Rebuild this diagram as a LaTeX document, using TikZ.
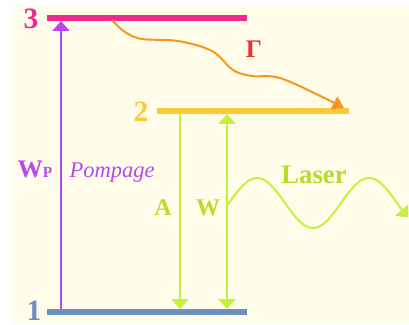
\documentclass[tikz,border=0pt]{standalone}
\usepackage{fontspec}
\setmainfont{Liberation Serif}
\usepackage{tikz}
\usetikzlibrary{arrows.meta}
\definecolor{bgCream}{HTML}{FFFDE9}
\definecolor{levThree}{HTML}{EE2A8F}
\definecolor{levTwo}{HTML}{FFC83A}
\definecolor{levOne}{HTML}{6F8FC0}
\definecolor{pumpPurple}{HTML}{B848EE}
\definecolor{laserGreen}{HTML}{C2F23E}
\definecolor{laserText}{HTML}{B6DC2E}
\definecolor{decayOrange}{HTML}{F7961E}
\definecolor{gammaRed}{HTML}{E8322C}

\begin{document}
\begin{tikzpicture}[x=0.025cm, y=-0.025cm,
  level/.style={line width=4.2pt},
  lvlabel/.style={font=\fontsize{21}{21}\selectfont\bfseries, anchor=base, inner sep=0pt},
  trans/.style={line width=1.4pt},
  tip/.style={-{Triangle[width=12pt,length=7pt]}}]
  \useasboundingbox (0,0) rectangle (409,324);
  \fill[bgCream] (13,5) rectangle (409,324);

  % Levels
  \coordinate (l3w) at (47,18);  \coordinate (l3e) at (247,18);
  \coordinate (l2w) at (157,111); \coordinate (l2e) at (349,111);
  \coordinate (l1w) at (47,312); \coordinate (l1e) at (247,312);
  \draw[level, levThree] (l3w) -- (l3e);
  \draw[level, levTwo] (l2w) -- (l2e);
  \draw[level, levOne] (l1w) -- (l1e);
  \node[lvlabel, text=levThree] (n3) at (31,28) {3};
  \node[lvlabel, text=levTwo] (n2) at (141,121) {2};
  \node[lvlabel, text=levOne] (n1) at (34,320) {1};

  % Pumping
  \coordinate (pbot) at (61,309); \coordinate (ptop) at (61,21);
  \draw[trans, pumpPurple, tip] (pbot) -- (ptop);
  \node[anchor=base, inner sep=0pt, text=pumpPurple, font=\fontsize{18}{18}\selectfont\bfseries] (wp) at (35,177) {W{\fontsize{11}{11}\selectfont P}};
  \node[anchor=base, inner sep=0pt, text=pumpPurple, font=\fontsize{16}{16}\selectfont\itshape] (pomp) at (112,177) {Pompage};

  % Spontaneous and stimulated emission
  \coordinate (atop) at (180,113); \coordinate (abot) at (180,309);
  \coordinate (wtop) at (227,114); \coordinate (wbot) at (227,309);
  \draw[trans, laserGreen, tip] (atop) -- (abot);
  \draw[trans, laserGreen, {Triangle[width=12pt,length=7pt]}-{Triangle[width=12pt,length=7pt]}] (wtop) -- (wbot);
  \node[anchor=base, inner sep=0pt, text=laserText, font=\fontsize{17}{17}\selectfont\bfseries] (la) at (163,215) {A};
  \node[anchor=base, inner sep=0pt, text=laserText, font=\fontsize{17}{17}\selectfont\bfseries] (lw) at (208,215) {W};

  % Laser beam
  \draw[trans, laserGreen, tip] plot[domain=228:408, samples=80, smooth] (\x, {203-25*sin(3.2143*(\x-229))});
  \node[anchor=base, inner sep=0pt, text=laserText, font=\fontsize{19}{19}\selectfont\bfseries] (laser) at (314,183) {Laser};

  % Non-radiative decay
  \draw[trans, decayOrange, -{Triangle[width=10pt,length=8pt]}] plot[smooth, tension=0.6] coordinates {(112,20) (125,32) (142,39) (178,41) (212,51) (233,70) (252,76) (283,79) (344,108)};
  \node[anchor=base, inner sep=0pt, text=gammaRed, font=\fontsize{18}{18}\selectfont\bfseries] (gam) at (254,57) {Γ};
\end{tikzpicture}
\end{document}
